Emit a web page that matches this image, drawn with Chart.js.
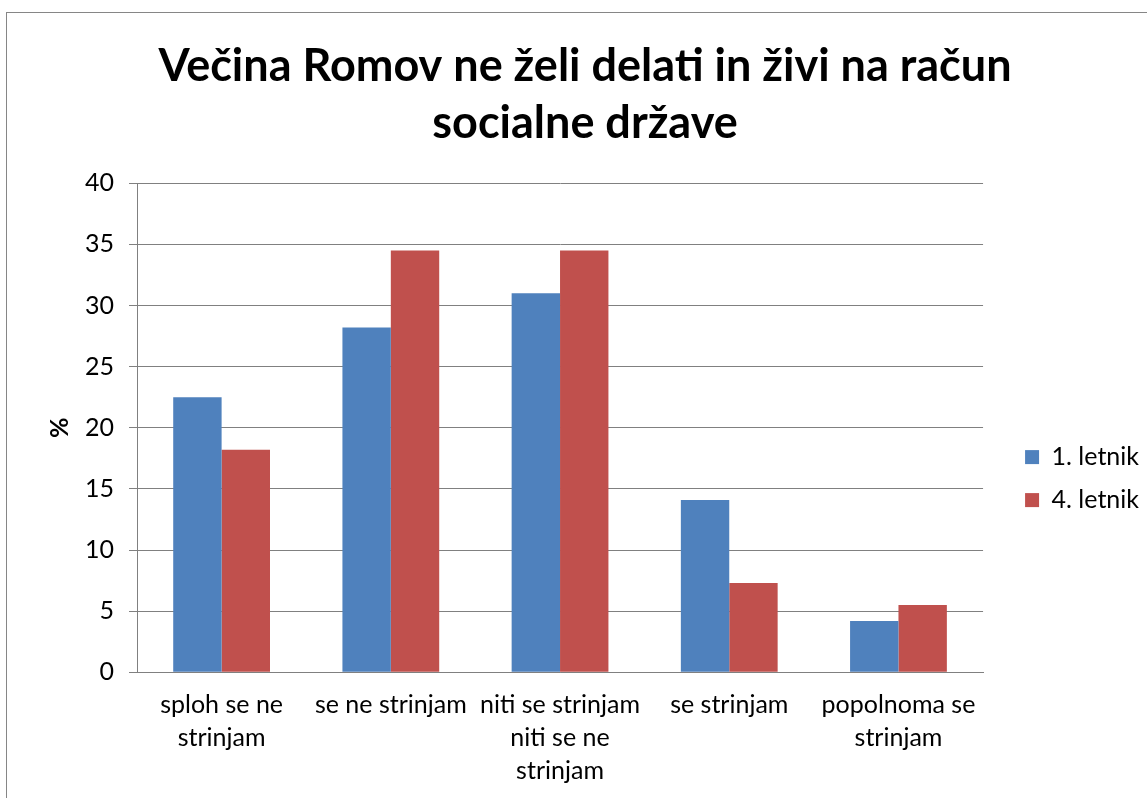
<!DOCTYPE html>
<html>
<head>
<meta charset="utf-8">
<script src="https://cdn.jsdelivr.net/npm/chart.js@4"></script>
<style>
  html, body { margin: 0; padding: 0; background: #fff; }
  #wrap { position: relative; width: 1147px; height: 798px; }
  #frame { position: absolute; left: 6px; top: 12px; right: -2px; bottom: -2px;
           border: 1px solid #868686; pointer-events: none; }
</style>
</head>
<body>
<div id="wrap">
  <canvas id="graf" width="1147" height="798"></canvas>
  <div id="frame"></div>
</div>
<script>
// Podatki grafa
var kategorije = [
  ["sploh se ne", "strinjam"],
  "se ne strinjam",
  ["niti se strinjam", "niti se ne", "strinjam"],
  "se strinjam",
  ["popolnoma se", "strinjam"]
];
var letnik1 = [22.5, 28.2, 31.0, 14.1, 4.2];
var letnik4 = [18.2, 34.5, 34.5, 7.3, 5.5];
var oznakeY = [0, 5, 10, 15, 20, 25, 30, 35, 40];

var pisava = "Lato, 'Liberation Sans', sans-serif";
var mreza = "#808080";
var legendaOdmik = 24; // dodaten prostor levo od legende

// legenda: vec prostora med grafom in kvadratki
var razmikLegende = {
  id: "razmikLegende",
  afterInit: function (chart) {
    var lg = chart.legend;
    var fit0 = lg.fit;
    lg.fit = function () {
      fit0.apply(this, arguments);
      this.width += legendaOdmik;
    };
    var draw0 = lg.draw;
    lg.draw = function () {
      this.ctx.save();
      this.ctx.translate(legendaOdmik, 0);
      draw0.apply(this, arguments);
      this.ctx.restore();
    };
  }
};

var ctx = document.getElementById("graf").getContext("2d");
var graf = new Chart(ctx, {
  type: "bar",
  data: {
    labels: kategorije,
    datasets: [
      {
        label: "1. letnik",
        backgroundColor: "#4F81BD",
        data: letnik1,
        categoryPercentage: 0.572,
        barPercentage: 1.0
      },
      {
        label: "4. letnik",
        backgroundColor: "#C0504D",
        data: letnik4,
        categoryPercentage: 0.572,
        barPercentage: 1.0
      }
    ]
  },
  plugins: [razmikLegende],
  options: {
    responsive: false,
    animation: false,
    layout: {
      padding: { left: 21, right: -2, top: 22, bottom: -6 }
    },
    scales: {
      x: {
        grid: { display: false, drawTicks: false },
        border: { color: mreza, width: 1 },
        ticks: {
          color: "#000",
          padding: 16,
          maxRotation: 0,
          autoSkip: false,
          font: { family: pisava, size: 25, lineHeight: 1.33 }
        }
      },
      y: {
        min: 0,
        max: 40,
        afterBuildTicks: function (axis) {
          axis.ticks = oznakeY.map(function (v) { return { value: v }; });
        },
        grid: { color: mreza, tickLength: 8, lineWidth: 1 },
        border: { color: mreza, width: 1 },
        ticks: {
          color: "#000",
          padding: 15,
          font: { family: pisava, size: 25 }
        },
        title: {
          display: true,
          text: "%",
          color: "#000",
          padding: { top: 29, bottom: 0 },
          font: { family: pisava, size: 25, weight: "bold", lineHeight: 0.8 }
        }
      }
    },
    plugins: {
      title: {
        display: true,
        text: ["Večina Romov ne želi delati in živi na račun", "socialne države"],
        color: "#000",
        padding: { top: 16, bottom: 31 },
        font: { family: pisava, size: 45, weight: "bold", lineHeight: 1.27 }
      },
      legend: {
        position: "right",
        title: {
          display: true,
          text: "",
          padding: { top: 0, bottom: 112 },
          font: { family: pisava, size: 16 }
        },
        labels: {
          color: "#000",
          boxWidth: 14,
          boxHeight: 14,
          padding: 18,
          font: { family: pisava, size: 25 }
        }
      },
      tooltip: { enabled: false }
    }
  }
});
</script>
</body>
</html>
